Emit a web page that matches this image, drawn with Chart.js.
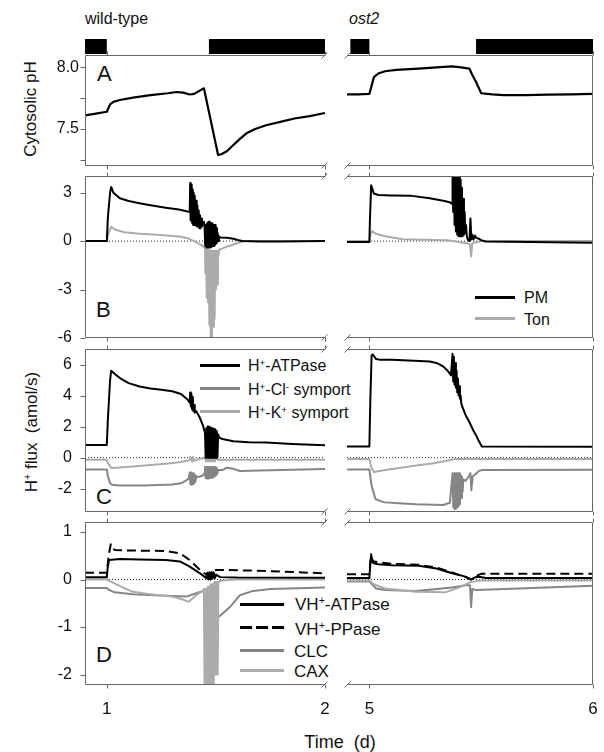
<!DOCTYPE html>
<html><head><meta charset="utf-8">
<script src="https://cdn.jsdelivr.net/npm/chart.js@4/dist/chart.umd.min.js"></script>
<style>
body{margin:0;background:#fff;width:604px;height:752px;position:relative;overflow:hidden;font-family:"Liberation Sans",Arial,sans-serif;color:#111}
canvas{position:absolute}
.t{position:absolute;white-space:pre;line-height:1}
.ln{position:absolute;height:3px}
sup{font-size:0.62em;line-height:0;vertical-align:0.55em}
.rot{transform:translate(-50%,-50%) rotate(-90deg)}
</style></head><body>
<div class="t" style="left:85px;top:11.3px;font-size:16px">wild-type</div>
<div class="t" style="left:349px;top:11.3px;font-size:16px;font-style:italic">ost2</div>
<div class="t rot" style="left:30px;top:109px;font-size:17px">Cytosolic pH</div>
<div class="t rot" style="left:31px;top:432px;font-size:17px">H<sup>+</sup> flux  (amol/s)</div>
<div class="t" style="left:340px;top:732.8px;font-size:18px;transform:translateX(-50%)">Time  (d)</div>
<div class="t" style="left:97px;top:63.4px;font-size:22px">A</div>
<div class="t" style="left:96px;top:299.4px;font-size:22px">B</div>
<div class="t" style="left:96px;top:486.4px;font-size:22px">C</div>
<div class="t" style="left:96px;top:644.4px;font-size:22px">D</div>

<div class="ln" style="left:475px;top:295.5px;width:40px;background:#000"></div>
<div class="t" style="left:524px;top:289.8px;font-size:16px">PM</div>
<div class="ln" style="left:475px;top:316.8px;width:40px;background:#ababab"></div>
<div class="t" style="left:524px;top:311.5px;font-size:16px">Ton</div>

<div class="ln" style="left:200px;top:363.5px;width:40px;background:#000"></div>
<div class="t" style="left:248px;top:358.1px;font-size:16px">H<sup>+</sup>-ATPase</div>
<div class="ln" style="left:200px;top:386.8px;width:40px;background:#858585"></div>
<div class="t" style="left:248px;top:381.5px;font-size:16px">H<sup>+</sup>-Cl<sup>-</sup> symport</div>
<div class="ln" style="left:200px;top:410.2px;width:40px;background:#ababab"></div>
<div class="t" style="left:248px;top:404.8px;font-size:16px">H<sup>+</sup>-K<sup>+</sup> symport</div>

<div class="ln" style="left:240px;top:602.5px;width:44px;background:#000"></div>
<div class="t" style="left:295px;top:596.3px;font-size:17px">VH<sup>+</sup>-ATPase</div>
<div class="ln" style="left:240px;top:626.2px;width:44px;background:repeating-linear-gradient(90deg,#000 0 12px,transparent 12px 16px)"></div>
<div class="t" style="left:295px;top:620.7px;font-size:17px">VH<sup>+</sup>-PPase</div>
<div class="ln" style="left:240px;top:649.2px;width:44px;background:#858585"></div>
<div class="t" style="left:294px;top:642.7px;font-size:17px">CLC</div>
<div class="ln" style="left:240px;top:669.2px;width:44px;background:#ababab"></div>
<div class="t" style="left:294px;top:662.7px;font-size:17px">CAX</div>

<script>
// ---------- data ----------
const nightWT = [[0.9, 1.0], [1.468, 2.0]];
const nightO2 = [[4.915, 5.0], [5.477, 6.0]];

const xTicksWT = [1, 2];
const xTicksO2 = [5, 6];
const yTicksA = [7.25, 7.5, 7.75, 8.0];
const yTicksB = [-6, -3, 0, 3];
const yTicksC = [-2, 0, 2, 4, 6];
const yTicksD = [-2, -1, 0, 1];

// Panel A: cytosolic pH
const wtA_x = [0.9,0.95,1.0,1.005,1.015,1.03,1.06,1.12,1.2,1.28,1.32,1.35,1.38,1.40,1.43,1.445,1.51,1.525,1.55,1.58,1.61,1.64,1.68,1.73,1.8,1.86,1.93,2.0];
const wtA_pH = [7.61,7.625,7.64,7.66,7.70,7.72,7.735,7.755,7.775,7.79,7.80,7.795,7.78,7.785,7.815,7.83,7.29,7.295,7.32,7.37,7.42,7.465,7.50,7.53,7.56,7.585,7.605,7.63];
const o2A_x = [4.9,4.95,5.0,5.01,5.02,5.04,5.07,5.12,5.22,5.3,5.37,5.41,5.447,5.46,5.48,5.5,5.55,5.6,5.7,5.8,5.9,6.0];
const o2A_pH = [7.78,7.78,7.785,7.85,7.92,7.95,7.968,7.98,7.99,8.0,8.008,8.0,7.99,7.94,7.87,7.79,7.78,7.775,7.775,7.778,7.78,7.785];

// Panel B: PM and tonoplast H+ flux
const wtB_pm_x = [0.9,1.0,1.005,1.015,1.02,1.03,1.06,1.1,1.15,1.2,1.27,1.33,1.38,
 1.382,1.384,1.386,1.388,1.39,1.392,1.394,1.396,1.398,1.4,1.403,1.406,1.409,1.412,1.415,1.418,1.421,1.424,1.427,1.43,1.433,1.436,1.44,1.445,
 1.448,1.451,1.454,1.457,1.46,1.463,1.466,1.469,1.472,1.475,1.478,1.481,1.484,1.487,1.49,1.493,1.496,1.499,1.502,1.505,1.508,1.511,1.514,
 1.52,1.55,1.58,1.6,1.62,1.7,1.8,2.0];
const wtB_pm = [0,0,1.5,3.0,3.35,3.0,2.65,2.48,2.34,2.22,2.07,1.95,1.8,
 3.6,1.3,3.5,1.2,3.4,1.1,3.2,1.0,3.0,1.0,2.8,1.0,2.5,0.9,2.2,0.9,1.9,0.8,1.6,0.8,1.4,0.9,1.1,1.2,
 0.9,-0.3,1.0,-0.4,1.1,-0.4,1.2,-0.4,1.2,-0.4,1.1,-0.35,1.1,-0.3,1.0,-0.3,1.0,-0.2,0.8,-0.1,0.5,0.0,0.3,
 0.22,0.2,0.15,0.07,0.0,-0.03,-0.02,0];
const wtB_ton_x = [0.9,1.0,1.008,1.02,1.04,1.08,1.15,1.25,1.33,1.37,1.40,1.43,1.447,
 1.450,1.452,1.455,1.458,1.461,1.464,1.467,1.470,1.473,1.476,1.479,1.482,1.485,1.488,1.491,1.494,1.497,1.500,1.503,1.506,1.509,1.512,1.515,
 1.53,1.56,1.6,1.63,2.0];
const wtB_ton = [0,0,0.5,0.88,0.7,0.55,0.45,0.37,0.28,0.18,0.0,-0.22,-0.4,
 -0.45,-2.0,-0.5,-3.5,-0.5,-3.8,-0.55,-5.2,-0.6,-6.0,-0.6,-6.0,-0.6,-5.3,-0.6,-4.8,-0.6,-3.0,-0.6,-2.7,-0.6,-0.9,-0.55,
 -0.45,-0.3,-0.12,0,0];
const o2B_pm_x = [4.9,5.0,5.003,5.008,5.012,5.02,5.04,5.1,5.19,5.27,5.33,5.36,5.37,
 5.372,5.375,5.378,5.381,5.384,5.387,5.390,5.393,5.396,5.399,5.402,5.405,5.408,5.411,5.414,5.417,5.420,5.423,5.426,5.429,5.432,5.436,
 5.44,5.448,5.452,5.456,5.46,5.466,5.472,5.478,5.49,5.5,5.52,6.0];
const o2B_pm = [-0.05,-0.05,1.5,3.45,3.3,2.95,2.85,2.82,2.8,2.65,2.5,2.4,2.3,
 4.1,1.8,4.1,1.0,4.1,0.6,4.1,0.4,4.1,0.3,4.1,0.3,3.8,0.3,3.3,0.3,2.6,0.4,1.8,0.5,1.0,0.3,
 0.1,0.0,1.4,0.1,0.4,0.1,0.35,0.2,0.15,0.05,-0.02,-0.1];
const o2B_ton_x = [4.9,5.0,5.005,5.012,5.03,5.07,5.15,5.25,5.35,5.40,5.44,5.45,5.455,5.46,5.47,5.5,6.0];
const o2B_ton = [0,0,0.4,0.62,0.45,0.3,0.12,0.08,0.05,-0.05,-0.15,-0.2,-0.95,-0.15,-0.1,0,0];

// Panel C: PM transporters
const wtC_atp_x = [0.9,1.0,1.005,1.015,1.02,1.04,1.06,1.1,1.15,1.2,1.25,1.3,1.34,1.37,1.38,
 1.382,1.385,1.388,1.391,1.394,1.397,1.4,1.403,
 1.41,1.427,1.44,1.447,
 1.45,1.453,1.456,1.459,1.462,1.465,1.468,1.471,1.474,1.477,1.48,1.483,1.486,1.489,1.492,1.495,1.498,1.501,1.504,1.507,1.51,
 1.515,1.53,1.58,1.65,1.73,1.85,2.0];
const wtC_atp = [0.82,0.82,2.5,5.0,5.6,5.35,5.13,4.8,4.58,4.45,4.37,4.28,4.1,3.75,3.55,
 4.2,3.3,4.1,3.1,3.9,3.0,3.4,2.9,
 3.0,2.55,2.1,1.75,
 1.6,0.0,1.9,0.0,2.0,0.0,2.0,0.0,1.95,0.0,1.9,0.0,1.9,0.0,1.85,0.0,1.8,0.0,1.7,0.0,1.5,
 1.3,1.2,1.06,1.0,0.98,0.88,0.8];
const wtC_cl_x = [0.9,1.0,1.005,1.015,1.025,1.06,1.17,1.3,1.34,1.36,1.375,
 1.38,1.383,1.386,1.389,1.392,1.395,1.398,1.401,1.404,1.407,1.41,1.42,1.44,1.447,
 1.45,1.453,1.456,1.459,1.462,1.465,1.468,1.471,1.474,1.477,1.48,1.483,1.486,1.489,1.492,1.495,1.498,1.501,1.504,1.507,1.51,
 1.53,1.55,1.58,1.61,1.7,1.85,2.0];
const wtC_cl = [-0.76,-0.76,-1.2,-1.65,-1.75,-1.8,-1.8,-1.73,-1.65,-1.5,-1.35,
 -0.95,-1.7,-0.95,-1.75,-1.0,-1.7,-1.0,-1.6,-1.1,-1.5,-1.2,-1.25,-1.15,-1.0,
 -0.6,-1.3,-0.6,-1.35,-0.6,-1.35,-0.6,-1.3,-0.6,-1.3,-0.6,-1.3,-0.6,-1.25,-0.6,-1.2,-0.6,-1.1,-0.65,-1.0,-0.8,
 -0.8,-0.65,-0.72,-0.86,-0.82,-0.78,-0.73];
const wtC_k_x = [0.9,1.0,1.005,1.02,1.06,1.12,1.2,1.27,1.33,1.365,1.38,
 1.383,1.39,1.395,1.4,1.42,1.45,1.455,1.46,1.465,1.47,1.475,1.48,1.485,1.49,1.495,1.5,1.51,1.53,2.0];
const wtC_k = [-0.13,-0.13,-0.35,-0.67,-0.64,-0.57,-0.48,-0.39,-0.3,-0.22,-0.12,
 0.05,-0.25,0.05,-0.2,-0.1,0.0,-0.25,0.05,-0.25,0.05,-0.25,0.05,-0.25,0.05,-0.25,0.0,-0.15,-0.13,-0.13];
const o2C_atp_x = [4.9,5.0,5.004,5.01,5.015,5.03,5.05,5.1,5.2,5.27,5.3,5.33,5.35,5.365,
 5.372,5.375,5.378,5.381,5.384,5.387,5.39,5.393,5.396,5.399,5.402,5.405,5.408,5.411,
 5.415,5.43,5.447,5.465,5.477,5.49,5.503,6.0];
const o2C_atp = [0.72,0.72,3.5,6.6,6.65,6.35,6.3,6.3,6.25,6.2,6.1,5.88,5.6,5.3,
 6.7,4.9,6.5,4.7,6.1,4.5,5.6,4.2,5.1,4.0,4.6,3.8,4.0,3.5,
 3.3,2.75,2.3,1.75,1.45,1.05,0.72,0.7];
const o2C_cl_x = [4.9,5.0,5.01,5.027,5.05,5.07,5.15,5.21,5.33,5.36,
 5.372,5.375,5.378,5.381,5.384,5.387,5.39,5.393,5.396,5.399,5.402,5.405,5.408,5.411,5.414,5.417,5.42,
 5.43,5.445,5.452,5.456,5.462,5.477,5.49,5.505,6.0];
const o2C_cl = [-0.76,-0.76,-1.8,-2.66,-2.8,-2.88,-2.95,-3.0,-3.05,-2.9,
 -1.0,-3.2,-1.0,-3.3,-1.0,-3.3,-1.0,-3.2,-1.0,-3.1,-1.0,-3.0,-1.1,-2.6,-1.2,-2.2,-1.4,
 -1.5,-1.2,-1.0,-2.1,-1.2,-1.04,-0.85,-0.8,-0.78];
const o2C_k_x = [4.9,5.0,5.008,5.02,5.07,5.14,5.21,5.28,5.34,5.37,5.39,5.42,6.0];
const o2C_k = [-0.08,-0.08,-0.6,-0.93,-0.8,-0.65,-0.5,-0.38,-0.22,-0.12,-0.07,-0.08,-0.08];

// Panel D: tonoplast transporters
const wtD_atp_x = [0.9,1.0,1.004,1.01,1.06,1.15,1.27,1.335,1.38,1.427,1.456,1.46,1.465,1.47,1.475,1.48,1.485,1.49,1.495,1.5,1.52,1.6,2.0];
const wtD_atp = [0.05,0.05,0.25,0.41,0.43,0.42,0.41,0.38,0.27,0.13,0.03,0.14,0.0,0.15,0.0,0.16,0.02,0.15,0.03,0.1,0.05,0.04,0.035];
const wtD_pp_x = [0.9,1.0,1.008,1.018,1.025,1.037,1.1,1.27,1.335,1.38,1.427,1.463,1.48,1.5,1.55,1.73,2.0];
const wtD_pp = [0.14,0.14,0.5,0.74,0.66,0.62,0.61,0.6,0.55,0.41,0.2,0.08,0.15,0.2,0.2,0.18,0.13];
const wtD_clc_x = [0.9,1.0,1.01,1.035,1.12,1.27,1.365,1.41,1.44,1.45,1.46,1.47,1.48,1.49,1.5,1.512,1.53,1.564,1.61,1.67,1.75,2.0];
const wtD_clc = [-0.18,-0.18,-0.22,-0.27,-0.31,-0.34,-0.36,-0.29,-0.24,-0.3,-0.4,-0.5,-0.6,-0.7,-0.75,-0.79,-0.72,-0.58,-0.33,-0.24,-0.2,-0.17];
const wtD_cax_x = [0.9,1.0,1.035,1.08,1.12,1.18,1.24,1.3,1.335,1.375,1.41,1.44,
 1.445,1.448,1.451,1.454,1.457,1.46,1.463,1.466,1.469,1.472,1.475,1.478,1.481,1.484,1.487,1.49,1.493,1.496,1.499,1.502,1.505,1.508,1.511,
 1.52,1.55,1.6,2.0];
const wtD_cax = [0,0,-0.08,-0.18,-0.26,-0.3,-0.33,-0.36,-0.4,-0.47,-0.33,-0.24,
 -0.2,-2.3,-0.2,-2.3,-0.2,-2.3,-0.15,-2.3,-0.15,-2.3,-0.1,-2.3,-0.1,-2.3,-0.1,-2.3,-0.05,-2.0,-0.05,-2.0,-0.05,-2.0,-0.05,
 -0.03,-0.01,0,0];
const o2D_atp_x = [4.9,5.0,5.004,5.008,5.012,5.02,5.04,5.1,5.22,5.3,5.37,5.43,5.455,5.47,5.49,5.52,6.0];
const o2D_atp = [0.03,0.03,0.3,0.53,0.38,0.34,0.32,0.3,0.29,0.23,0.13,0.06,0.0,0.04,0.06,0.03,0.03];
const o2D_pp_x = [4.9,5.0,5.004,5.008,5.012,5.02,5.06,5.1,5.22,5.3,5.37,5.43,5.455,5.48,5.5,6.0];
const o2D_pp = [0.11,0.11,0.35,0.5,0.42,0.38,0.35,0.33,0.31,0.25,0.15,0.05,0.0,0.08,0.12,0.12];
const o2D_clc_x = [4.9,5.0,5.03,5.07,5.21,5.37,5.43,5.45,5.455,5.46,5.477,5.67,6.0];
const o2D_clc = [-0.04,-0.04,-0.19,-0.22,-0.24,-0.17,-0.12,-0.12,-0.58,-0.2,-0.22,-0.19,-0.13];
const o2D_cax_x = [4.9,5.0,5.02,5.07,5.21,5.34,5.40,5.455,5.5,6.0];
const o2D_cax = [-0.02,-0.02,-0.1,-0.19,-0.26,-0.27,-0.17,-0.05,-0.02,-0.02];

// ---------- drawing ----------
Chart.defaults.font.family = '"Liberation Sans", Arial, sans-serif';
const BLACK = '#000', DGRAY = '#858585', LGRAY = '#ababab', FRAME = '#666666';

function decorPlugin(o) {
  return { id: 'decor', afterDraw(chart) {
    const ctx = chart.ctx, a = chart.chartArea, sx = chart.scales.x, sy = chart.scales.y;
    ctx.save();
    ctx.setLineDash([]);
    if (o.night) {
      ctx.fillStyle = '#000';
      o.night.forEach(function (p) { const x0 = sx.getPixelForValue(p[0]), x1 = sx.getPixelForValue(p[1]);
        ctx.fillRect(x0, a.top - 16, x1 - x0, 15); });
    }
    ctx.strokeStyle = FRAME; ctx.lineWidth = 1;
    const L = Math.round(a.left) + 0.5, R = Math.round(a.right) - 0.5, T = Math.round(a.top) + 0.5, B = Math.round(a.bottom) - 0.5;
    ctx.beginPath();
    ctx.moveTo(L, T); ctx.lineTo(R, T); ctx.moveTo(L, B); ctx.lineTo(R, B);
    if (o.side === 'left') { ctx.moveTo(L, T); ctx.lineTo(L, B); } else { ctx.moveTo(R, T); ctx.lineTo(R, B); }
    o.xt.forEach(function (v) { const px = Math.round(sx.getPixelForValue(v)) + 0.5;
      ctx.moveTo(px, T); ctx.lineTo(px, T - 4); ctx.moveTo(px, B); ctx.lineTo(px, B + 4); });
    if (o.side === 'left') {
      o.yt.forEach(function (v) { const py = Math.round(sy.getPixelForValue(v)) + 0.5;
        ctx.moveTo(L, py); ctx.lineTo(L - 5, py); });
    }
    ctx.stroke();
    const bx = o.side === 'left' ? R : L;
    ctx.beginPath();
    [T, B].forEach(function (y) { ctx.moveTo(bx - 3, y + 3); ctx.lineTo(bx + 3, y - 3); });
    ctx.stroke();
    ctx.restore();
  } };
}

function panel(o) {
  const c = document.createElement('canvas');
  c.width = o.w; c.height = o.h;
  Object.assign(c.style, { left: o.left + 'px', top: o.top + 'px', width: o.w + 'px', height: o.h + 'px' });
  document.body.appendChild(c);
  const ds = o.series.map(s => ({
    data: s.x.map((x, i) => ({ x: x, y: s.y[i] })),
    borderColor: s.c, borderWidth: s.w || 2, borderDash: s.d || [],
    pointRadius: 0, tension: 0, fill: false, borderJoinStyle: 'round', borderCapStyle: 'butt'
  }));
  if (o.zero) ds.push({ data: [{ x: o.xmin, y: 0 }, { x: o.xmax, y: 0 }], borderColor: '#222', borderWidth: 1, borderDash: [1, 2], pointRadius: 0 });
  new Chart(c, {
    type: 'line',
    data: { datasets: ds },
    plugins: [decorPlugin(o)],
    options: {
      responsive: false, animation: false, devicePixelRatio: 1, events: [],
      layout: { padding: { left: o.pl, right: o.pr, top: o.pt, bottom: o.pb } },
      plugins: { legend: { display: false }, tooltip: { enabled: false } },
      scales: {
        x: { type: 'linear', min: o.xmin, max: o.xmax, display: !!o.showX,
          afterFit: s => { if (o.showX) s.height = 30; },
          afterBuildTicks: s => { s.ticks = o.xt.map(v => ({ value: v })); },
          grid: { display: false, drawTicks: false }, border: { display: false },
          ticks: { padding: 14, color: '#111', font: { size: 17 }, maxRotation: 0, autoSkip: false, callback: v => String(v) } },
        y: { type: 'linear', min: o.ymin, max: o.ymax, display: !!o.showY,
          afterFit: s => { if (o.showY) s.width = 85; },
          afterBuildTicks: s => { s.ticks = o.yt.map(v => ({ value: v })); },
          grid: { display: false, drawTicks: false },
          border: { display: false },
          ticks: { padding: o.ypad, color: '#111', font: { size: 16 }, autoSkip: false, callback: o.ylab || (v => String(v)) } }
      }
    }
  });
}

// plot areas: left column x 85..325, right column x 347..593
const colL = { left: 0, w: 351, pl: 0, pr: 26, side: 'left', showY: true, xmin: 0.9, xmax: 2.0, xt: xTicksWT };
const colR = { left: 335, w: 285, pl: 12, pr: 27, side: 'right', showY: false, xmin: 4.9, xmax: 6.0, xt: xTicksO2 };
// plot areas: A 55..166, B 176..338, C 349..512, D 522..685
const rowA = { top: 25, h: 167, pt: 30, pb: 26, ymin: 7.2, ymax: 8.1, yt: yTicksA, ypad: 6,
  ylab: v => (v === 8 ? '8.0' : v === 7.5 ? '7.5' : '') };
const rowB = { top: 150, h: 214, pt: 26, pb: 26, ymin: -6, ymax: 4.03, yt: yTicksB, ypad: 13, zero: true };
const rowC = { top: 323, h: 215, pt: 26, pb: 26, ymin: -3.5, ymax: 7, yt: yTicksC, ypad: 13, zero: true };
const rowD = { top: 496, h: 229, pt: 26, pb: 10, ymin: -2.22, ymax: 1.21, yt: yTicksD, ypad: 13, zero: true, showX: true };

panel({ ...colL, ...rowA, night: nightWT, series: [{ x: wtA_x, y: wtA_pH, c: BLACK, w: 2.2 }] });
panel({ ...colR, ...rowA, night: nightO2, series: [{ x: o2A_x, y: o2A_pH, c: BLACK, w: 2.2 }] });

panel({ ...colL, ...rowB, series: [
  { x: wtB_pm_x, y: wtB_pm, c: BLACK, w: 2 },
  { x: wtB_ton_x, y: wtB_ton, c: LGRAY, w: 2 } ] });
panel({ ...colR, ...rowB, series: [
  { x: o2B_pm_x, y: o2B_pm, c: BLACK, w: 2 },
  { x: o2B_ton_x, y: o2B_ton, c: LGRAY, w: 2 } ] });

panel({ ...colL, ...rowC, series: [
  { x: wtC_atp_x, y: wtC_atp, c: BLACK, w: 2 },
  { x: wtC_cl_x, y: wtC_cl, c: DGRAY, w: 2 },
  { x: wtC_k_x, y: wtC_k, c: LGRAY, w: 2 } ] });
panel({ ...colR, ...rowC, series: [
  { x: o2C_atp_x, y: o2C_atp, c: BLACK, w: 2 },
  { x: o2C_cl_x, y: o2C_cl, c: DGRAY, w: 2 },
  { x: o2C_k_x, y: o2C_k, c: LGRAY, w: 2 } ] });

panel({ ...colL, ...rowD, series: [
  { x: wtD_atp_x, y: wtD_atp, c: BLACK, w: 2 },
  { x: wtD_pp_x, y: wtD_pp, c: BLACK, w: 2, d: [9, 5] },
  { x: wtD_cax_x, y: wtD_cax, c: LGRAY, w: 2 },
  { x: wtD_clc_x, y: wtD_clc, c: DGRAY, w: 2 } ] });
panel({ ...colR, ...rowD, series: [
  { x: o2D_atp_x, y: o2D_atp, c: BLACK, w: 2 },
  { x: o2D_pp_x, y: o2D_pp, c: BLACK, w: 2, d: [9, 5] },
  { x: o2D_cax_x, y: o2D_cax, c: LGRAY, w: 2 },
  { x: o2D_clc_x, y: o2D_clc, c: DGRAY, w: 2 } ] });
</script>
</body></html>
